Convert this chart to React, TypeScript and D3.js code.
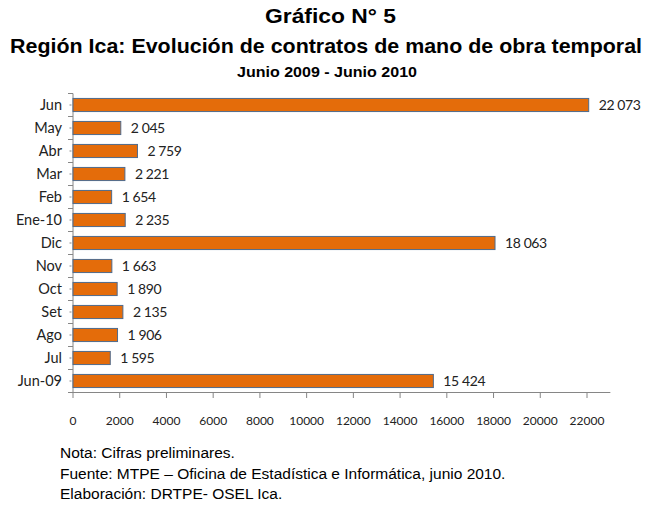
import React from "react";
import * as d3 from "d3";

const categories = ["Jun", "May", "Abr", "Mar", "Feb", "Ene-10", "Dic", "Nov", "Oct", "Set", "Ago", "Jul", "Jun-09"];
const values = [22073, 2045, 2759, 2221, 1654, 2235, 18063, 1663, 1890, 2135, 1906, 1595, 15424];
const xTicks = [0, 2000, 4000, 6000, 8000, 10000, 12000, 14000, 16000, 18000, 20000, 22000];
const titleLines = ["Gráfico N° 5", "Región Ica: Evolución de contratos de mano de obra temporal", "Junio 2009 - Junio 2010"];
const notes = ["Nota: Cifras preliminares.", "Fuente: MTPE – Oficina de Estadística e Informática, junio 2010.", "Elaboración: DRTPE- OSEL Ica."];

const W = 658, H = 514;
const cal = "Lato, 'Open Sans', sans-serif";
const arial = "'Liberation Sans', Arial, sans-serif";

export default function App() {
  const x = d3.scaleLinear().domain([0, 22000]).range([73, 587]);
  const y = d3.scaleBand<string>().domain(categories).range([93.5, 392.5]).paddingInner(0.43).paddingOuter(0.215);
  const axisEnd = x(23000);
  const step = y.step();
  const fmt = (v: number) => d3.format(",")(v).replace(/,/g, " ");
  return (
    <svg width={W} height={H} style={{ position: "absolute", left: 0, top: 0, background: "#fff" }}>
      <text x={330.5} y={22.5} textAnchor="middle" fontFamily={arial} fontWeight="bold" fontSize={21} fill="#000" textLength={131} lengthAdjust="spacingAndGlyphs">{titleLines[0]}</text>
      <text x={326} y={53} textAnchor="middle" fontFamily={arial} fontWeight="bold" fontSize={21} fill="#000" textLength={632} lengthAdjust="spacingAndGlyphs">{titleLines[1]}</text>
      <text x={327} y={77} textAnchor="middle" fontFamily={arial} fontWeight="bold" fontSize={14.5} fill="#000" textLength={180} lengthAdjust="spacingAndGlyphs">{titleLines[2]}</text>

      {/* y axis */}
      <line x1={73} x2={73} y1={93.5} y2={392.5} stroke="#868686" strokeWidth={1} />
      {d3.range(categories.length + 1).map(i => (
        <line key={"yb" + i} x1={68} x2={73} y1={93.5 + i * step} y2={93.5 + i * step} stroke="#868686" />
      ))}
      {categories.map(c => (
        <line key={"yc" + c} x1={69.5} x2={71.5} y1={(y(c) as number) + y.bandwidth() / 2} y2={(y(c) as number) + y.bandwidth() / 2} stroke="#868686" />
      ))}
      {categories.map(c => (
        <text key={"yl" + c} x={62} y={(y(c) as number) + y.bandwidth() / 2} dy="0.35em" textAnchor="end" fontFamily={cal} fontSize={14.5} fill="#222">{c}</text>
      ))}

      {/* bars */}
      {categories.map((c, i) => (
        <rect key={"b" + c} x={x(0)} y={y(c)} width={x(values[i]) - x(0)} height={y.bandwidth()} fill="#E46C0A" stroke="#4F6A8C" strokeWidth={1} />
      ))}
      {categories.map((c, i) => (
        <text key={"v" + c} x={x(values[i]) + 10} y={(y(c) as number) + y.bandwidth() / 2} dy="0.35em" fontFamily={cal} fontSize={14} fill="#222" letterSpacing={-0.4}>{fmt(values[i])}</text>
      ))}

      {/* x axis */}
      <line x1={73} x2={axisEnd} y1={392.5} y2={392.5} stroke="#868686" />
      {xTicks.map(t => (
        <line key={"xt" + t} x1={x(t)} x2={x(t)} y1={392.5} y2={398} stroke="#868686" />
      ))}
      {xTicks.map(t => (
        <text key={"xl" + t} x={x(t)} y={421} dy="0.35em" textAnchor="middle" fontFamily={cal} fontSize={12} fill="#222">{t}</text>
      ))}

      {notes.map((n, i) => (
        <text key={"n" + i} x={60} y={458 + i * 20.5} fontFamily={arial} fontSize={15.5} fill="#000">{n}</text>
      ))}
    </svg>
  );
}
